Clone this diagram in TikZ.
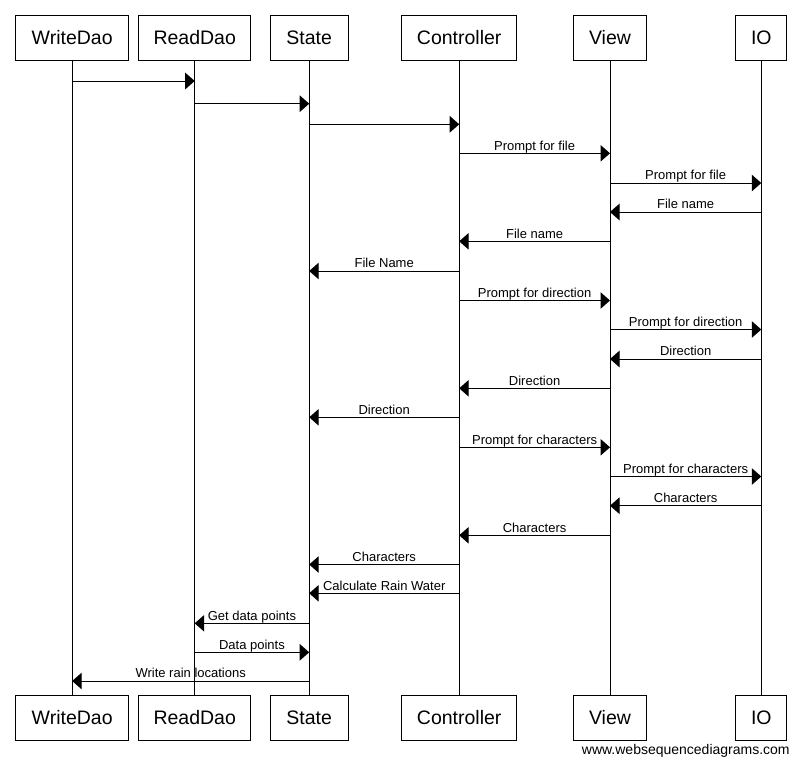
\documentclass[tikz,border=0pt]{standalone}
\usepackage{fontspec}
\setmainfont{Liberation Sans}
\usetikzlibrary{arrows.meta}
\tikzset{
  actor/.style={draw, line width=1pt, minimum height=45pt, inner sep=0pt,
    font=\fontsize{19.5}{20}\selectfont, text height=14pt, text depth=0pt},
  life/.style={line width=1pt},
  msg/.style={line width=1pt, -{Triangle[length=9.5pt,width=16.5pt]}},
  mlabel/.style={font=\fontsize{13}{14}\selectfont, anchor=base, inner sep=0pt, yshift=3.3pt},
}
\newcommand{\seqmsg}[4]{\draw[msg] (#1 |- 0,#3) -- (#2 |- 0,#3) node[midway, mlabel] {#4};}
\begin{document}
\begin{tikzpicture}[x=1pt, y=-1pt]
\useasboundingbox[fill=white] (0,0) rectangle (801,764);
% top actors
\node[actor, minimum width=113pt] (t1) at (72.2,37.7) {WriteDao};
\node[actor, minimum width=112pt] (t2) at (194.7,37.7) {ReadDao};
\node[actor, minimum width=77.7pt] (t3) at (309.2,37.7) {State};
\node[actor, minimum width=115.3pt] (t4) at (459.2,37.7) {Controller};
\node[actor, minimum width=73.3pt] (t5) at (610,37.7) {View};
\node[actor, minimum width=50.7pt] (t6) at (761.3,37.7) {IO};
% bottom actors
\node[actor, minimum width=113pt] (b1) at (72.2,717.8) {WriteDao};
\node[actor, minimum width=112pt] (b2) at (194.7,717.8) {ReadDao};
\node[actor, minimum width=77.7pt] (b3) at (309.2,717.8) {State};
\node[actor, minimum width=115.3pt] (b4) at (459.2,717.8) {Controller};
\node[actor, minimum width=73.3pt] (b5) at (610,717.8) {View};
\node[actor, minimum width=50.7pt] (b6) at (761.3,717.8) {IO};
% lifelines
\draw[life] (t1) -- (b1);
\draw[life] (t2) -- (b2);
\draw[life] (t3) -- (b3);
\draw[life] (t4) -- (b4);
\draw[life] (t5) -- (b5);
\draw[life] (t6) -- (b6);
% messages
\seqmsg{t1}{t2}{81}{}
\seqmsg{t2}{t3}{103.7}{}
\seqmsg{t3}{t4}{124.3}{}
\seqmsg{t4}{t5}{153.3}{Prompt for file}
\seqmsg{t5}{t6}{183}{Prompt for file}
\seqmsg{t6}{t5}{212}{File name}
\seqmsg{t5}{t4}{241.3}{File name}
\seqmsg{t4}{t3}{271}{File Name}
\seqmsg{t4}{t5}{300.5}{Prompt for direction}
\seqmsg{t5}{t6}{329.5}{Prompt for direction}
\seqmsg{t6}{t5}{359}{Direction}
\seqmsg{t5}{t4}{388.3}{Direction}
\seqmsg{t4}{t3}{417.3}{Direction}
\seqmsg{t4}{t5}{447.3}{Prompt for characters}
\seqmsg{t5}{t6}{476.5}{Prompt for characters}
\seqmsg{t6}{t5}{505.7}{Characters}
\seqmsg{t5}{t4}{535.3}{Characters}
\seqmsg{t4}{t3}{564.5}{Characters}
\seqmsg{t4}{t3}{593.3}{Calculate Rain Water}
\seqmsg{t3}{t2}{623.3}{Get data points}
\seqmsg{t2}{t3}{652.3}{Data points}
\seqmsg{t3}{t1}{681}{Write rain locations}
% watermark
\node[font=\fontsize{14}{15}\selectfont, anchor=base, inner sep=0pt] (wm) at (685.8,754) {www.websequencediagrams.com};
\end{tikzpicture}
\end{document}
